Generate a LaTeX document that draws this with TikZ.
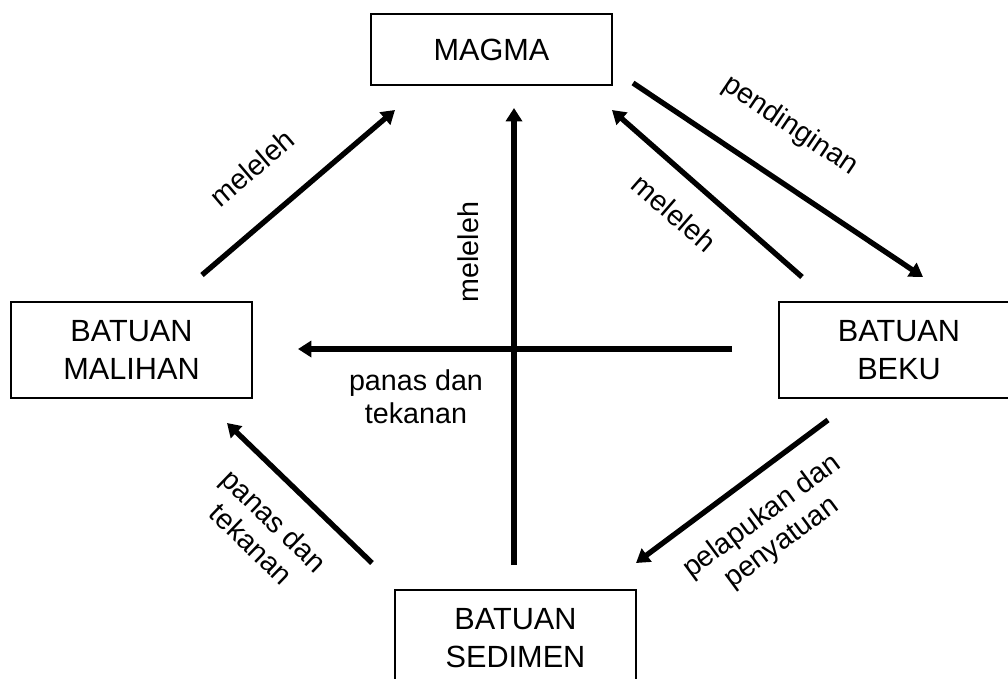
\documentclass[tikz,border=0pt]{standalone}
\usepackage{fontspec}
\setmainfont{Liberation Sans}
\usetikzlibrary{arrows.meta}
\begin{document}
\begin{tikzpicture}[x=0.75pt,y=-0.75pt,
  rock/.style={draw,line width=1.5pt,minimum width=180.75pt,align=center,
    font=\fontsize{23}{28.5}\selectfont},
  lbl/.style={align=center,font=\fontsize{21.5}{24.5}\selectfont},
  flow/.style={line width=4pt,-{Triangle[length=10pt,width=12pt]}}]
\useasboundingbox (0,0) rectangle (1008,679);
\clip (0,0) rectangle (1008,679);
\fill[white] (0,0) rectangle (1008,679);
% boxes
\node[rock,minimum height=53.25pt] (magma) at (491.5,49.5) {MAGMA};
\node[rock,minimum height=72pt] (malihan) at (131.5,350) {BATUAN\\MALIHAN};
\node[rock,minimum height=72pt] (beku) at (899,350) {BATUAN\\BEKU};
\node[rock,minimum height=72pt] (sedimen) at (515.5,638) {BATUAN\\SEDIMEN};
% arrow ends
\coordinate (m1s) at (202,275); \coordinate (m1e) at (395,110);
\coordinate (m2s) at (514,565); \coordinate (m2e) at (514,108);
\coordinate (p1s) at (732,349); \coordinate (p1e) at (298,349);
\coordinate (m3s) at (802,277); \coordinate (m3e) at (612,110);
\coordinate (pds) at (633,83);  \coordinate (pde) at (923,277);
\coordinate (pls) at (828,420); \coordinate (ple) at (636,563);
\coordinate (p2s) at (372,563); \coordinate (p2e) at (227,423);
\draw[flow] (m1s) -- (m1e);
\draw[flow] (m2s) -- (m2e);
\draw[flow] (p1s) -- (p1e);
\draw[flow] (m3s) -- (m3e);
\draw[flow] (pds) -- (pde);
\draw[flow] (pls) -- (ple);
\draw[flow] (p2s) -- (p2e);
% labels
\node[lbl,rotate=40.5] (t1) at (252,168) {meleleh};
\node[lbl,rotate=90] (t2) at (468,252) {meleleh};
\node[lbl] (t3) at (416,397) {panas dan\\tekanan};
\node[lbl,rotate=-41] (t4) at (674,213) {meleleh};
\node[lbl,rotate=-34] (t5) at (790,126) {pendinginan};
\node[lbl,rotate=36.5] (t6) at (772,530) {pelapukan dan\\penyatuan};
\node[lbl,rotate=-44] (t7) at (263,532) {panas dan\\tekanan};
\end{tikzpicture}
\end{document}
